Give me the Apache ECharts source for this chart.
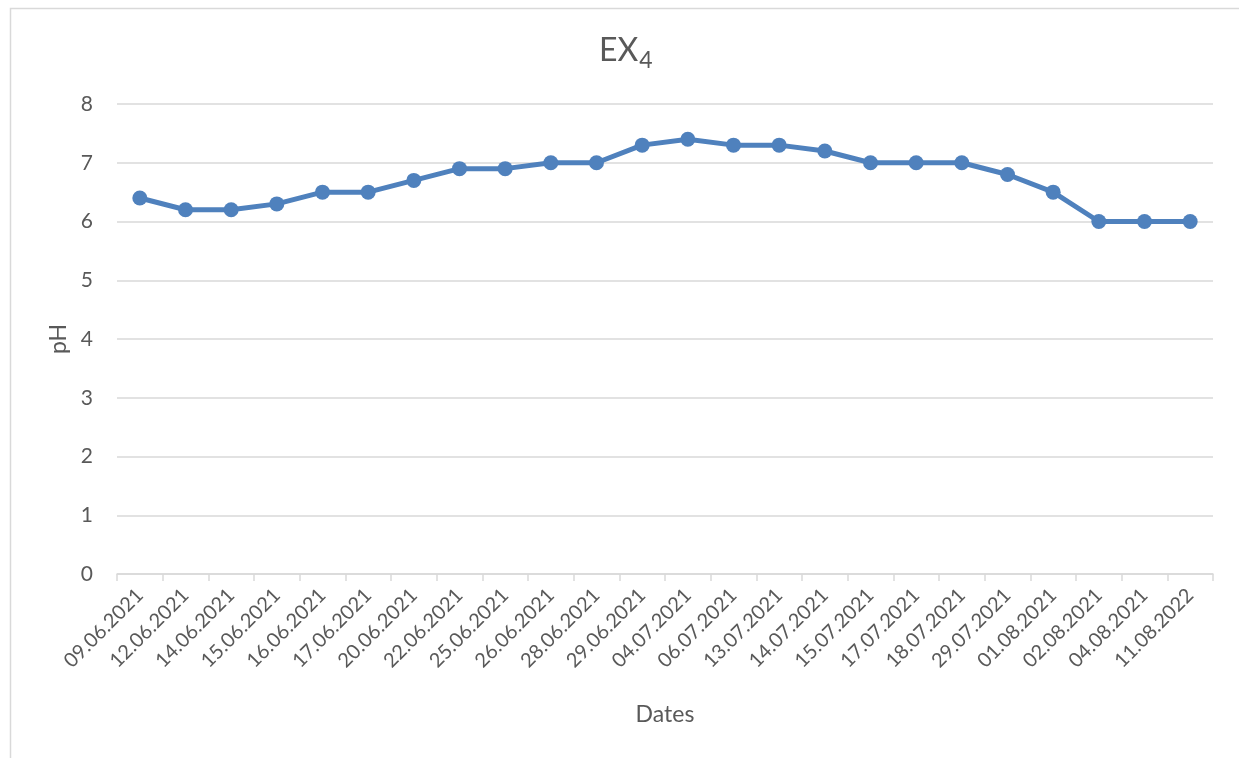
<!DOCTYPE html>
<html>
<head>
<meta charset="utf-8">
<script src="https://cdn.jsdelivr.net/npm/echarts@6/dist/echarts.min.js"></script>
<style>
  html, body { margin: 0; padding: 0; background: #fff; }
  #chart { width: 1239px; height: 758px; }
</style>
</head>
<body>
<div id="chart"></div>
<script>
// Sampling dates for EX4 and measured pH values
const dates = [
  '09.06.2021', '12.06.2021', '14.06.2021', '15.06.2021', '16.06.2021', '17.06.2021',
  '20.06.2021', '22.06.2021', '25.06.2021', '26.06.2021', '28.06.2021', '29.06.2021',
  '04.07.2021', '06.07.2021', '13.07.2021', '14.07.2021', '15.07.2021', '17.07.2021',
  '18.07.2021', '29.07.2021', '01.08.2021', '02.08.2021', '04.08.2021', '11.08.2022'
];
const phValues = [
  6.4, 6.2, 6.2, 6.3, 6.5, 6.5, 6.7, 6.9, 6.9, 7.0, 7.0, 7.3,
  7.4, 7.3, 7.3, 7.2, 7.0, 7.0, 7.0, 6.8, 6.5, 6.0, 6.0, 6.0
];
const yTicks = [0, 1, 2, 3, 4, 5, 6, 7, 8];

const FONT = 'Lato, "Open Sans", sans-serif';
const TEXT = '#595959';

const chart = echarts.init(document.getElementById('chart'), null, { renderer: 'canvas' });
chart.setOption({
  backgroundColor: '#ffffff',
  animation: false,
  graphic: [{
    type: 'rect',
    left: 8, top: 6,
    shape: { width: 1400, height: 900 },
    style: { fill: 'none', stroke: '#d9d9d9', lineWidth: 1.5 },
    silent: true
  }],
  title: {
    text: '{main|EX}{sub|4}',
    left: 594,
    top: 24,
    textStyle: {
      fontWeight: 'normal',
      rich: {
        main: { fontFamily: FONT, fontSize: 32, fontWeight: 'normal', color: TEXT, lineHeight: 38 },
        sub: { fontFamily: FONT, fontSize: 23, fontWeight: 'normal', color: TEXT, verticalAlign: 'bottom', padding: [20, 0, 0, 1] }
      }
    }
  },
  grid: { left: 117, right: 26, top: 104, bottom: 184, containLabel: false },
  xAxis: {
    type: 'category',
    data: dates,
    boundaryGap: true,
    name: 'Dates',
    nameLocation: 'middle',
    nameGap: 129,
    nameTextStyle: { fontFamily: FONT, fontSize: 23, color: TEXT },
    axisLine: { lineStyle: { color: '#d9d9d9', width: 1.5 } },
    axisTick: { show: true, length: 7, lineStyle: { color: '#d9d9d9', width: 1.5 } },
    axisLabel: {
      rotate: 45,
      interval: 0,
      margin: 18,
      fontFamily: FONT,
      fontSize: 20,
      color: TEXT
    },
    splitLine: { show: false }
  },
  yAxis: {
    type: 'value',
    min: yTicks[0],
    max: yTicks[yTicks.length - 1],
    interval: 1,
    name: 'pH',
    nameLocation: 'middle',
    nameGap: 46,
    nameRotate: 90,
    nameTextStyle: { fontFamily: FONT, fontSize: 23, color: TEXT },
    axisLine: { show: false },
    axisTick: { show: false },
    axisLabel: { fontFamily: FONT, fontSize: 21, color: TEXT, margin: 24 },
    splitLine: { lineStyle: { color: '#d9d9d9', width: 1.5 } }
  },
  series: [{
    type: 'line',
    data: phValues,
    symbol: 'circle',
    symbolSize: 15,
    lineStyle: { color: '#4f81bd', width: 5 },
    itemStyle: { color: '#4f81bd', borderWidth: 0 }
  }]
});
</script>
</body>
</html>
